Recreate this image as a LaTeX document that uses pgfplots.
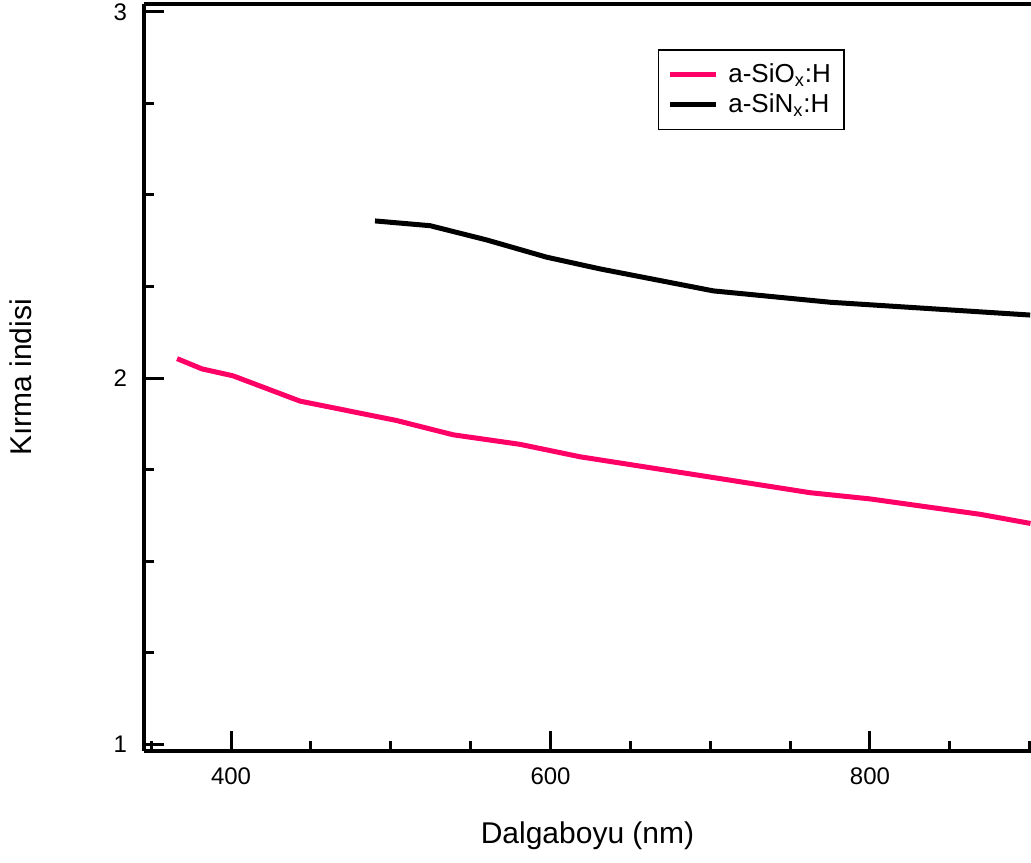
\documentclass[border=0pt]{standalone}
\usepackage{pgfplots}
\pgfplotsset{compat=1.18}
\usepackage{fontspec}
\setmainfont{Liberation Sans}
\definecolor{pinkline}{RGB}{255,0,102}
\begin{document}
\begin{tikzpicture}
\begin{axis}[
  scale only axis,
  width=443.5pt, height=373.5pt,
  xmin=345.5, xmax=900.8,
  ymin=0.9817, ymax=3.0213,
  axis lines*=left,
  axis line style={-, line width=1.6pt},
  xtick={400,600,800},
  minor xtick={350,450,500,550,650,700,750,850,900},
  ytick={1,2,3},
  minor ytick={1.25,1.5,1.75,2.25,2.5,2.75},
  tick align=inside,
  xtick pos=left, ytick pos=left,
  major tick length=10pt, minor tick length=5pt,
  every tick/.style={line width=1.5pt, black},
  /pgf/number format/assume math mode=true,
  /pgf/number format/1000 sep={},
  ticklabel style={font=\fontsize{12}{14}\selectfont},
  yticklabel style={xshift=-5pt},
  xticklabel style={yshift=-5pt},
  xlabel={Dalgaboyu (nm)},
  ylabel={Kırma indisi},
  every axis x label/.style={at={(rel axis cs:0.5,0)}, yshift=-42.5pt, anchor=center, font=\fontsize{15}{18}\selectfont},
  every axis y label/.style={at={(rel axis cs:0,0.5)}, xshift=-61.75pt, rotate=90, anchor=center, font=\fontsize{15}{18}\selectfont},
  legend style={at={(rel axis cs:0.790,0.9398)}, anchor=north east, draw=black, line width=0.8pt,
    font=\fontsize{13}{15}\selectfont, inner xsep=4.5pt, inner ysep=5pt, row sep=0pt,
    /tikz/every odd column/.append style={column sep=3pt}},
  legend cell align=left,
  legend image code/.code={\draw[line width=2.5pt] (0pt,0pt) -- (23pt,0pt);},
  clip=false,
]
\addplot[pinkline, line width=2.5pt] coordinates {
(366.2,2.053) (381.8,2.025) (401.3,2.006) (443.2,1.937) (503.7,1.884)
(539.1,1.845) (580.9,1.819) (618.5,1.785) (693.6,1.734) (762.4,1.687)
(800,1.670) (868.9,1.628) (900.5,1.603)
};
\addlegendentry{a-SiO\textsubscript{x}:H}
\addplot[black, line width=2.5pt] coordinates {
(490.1,2.429) (524.6,2.416) (560.1,2.377) (597.6,2.330) (631,2.298)
(701.9,2.238) (775,2.207) (900.3,2.172)
};
\addlegendentry{a-SiN\textsubscript{x}:H}
\coordinate (ll) at (rel axis cs:0,0);
\coordinate (ur) at (rel axis cs:1,1);
\draw[line width=1.6pt] (rel axis cs:0,1) -- (rel axis cs:1,1);
\end{axis}
\pgfresetboundingbox
\path ([shift={(-72pt,-56pt)}]ll) rectangle ([shift={(0pt,2pt)}]ur);
\end{tikzpicture}
\end{document}
